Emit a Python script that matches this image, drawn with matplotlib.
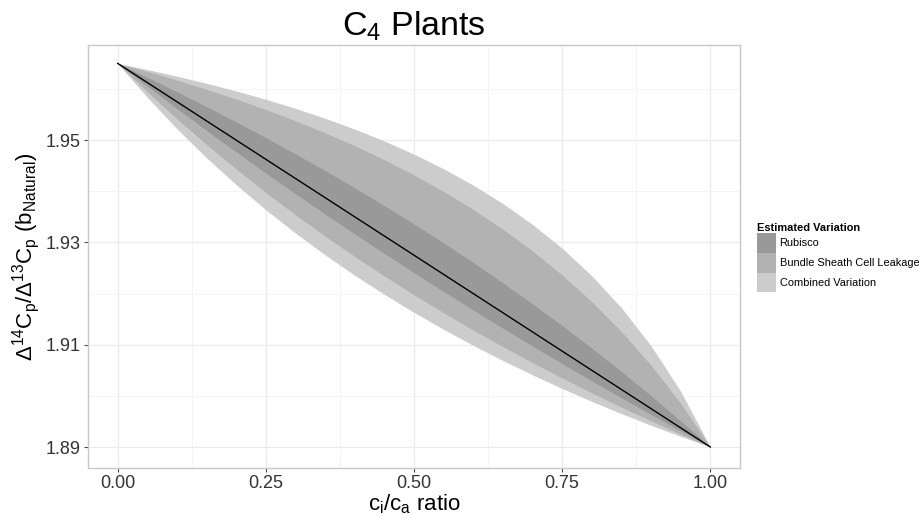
import matplotlib
matplotlib.use("Agg")
import matplotlib.pyplot as plt
from matplotlib.patches import Patch

plt.rcParams['font.family'] = ['Liberation Sans', 'DejaVu Sans']
plt.rcParams['mathtext.fontset'] = 'custom'
plt.rcParams['mathtext.rm'] = 'Liberation Sans'
plt.rcParams['mathtext.it'] = 'Liberation Sans'
plt.rcParams['mathtext.default'] = 'regular'

# ci/ca ratio
x = [0.00, 0.05, 0.10, 0.15, 0.20, 0.25, 0.30, 0.35, 0.40, 0.45, 0.50,
     0.55, 0.60, 0.65, 0.70, 0.75, 0.80, 0.85, 0.90, 0.95, 1.00]

# central estimate
mid = [1.96500, 1.96125, 1.95750, 1.95375, 1.95000, 1.94625, 1.94250, 1.93875,
       1.93500, 1.93125, 1.92750, 1.92375, 1.92000, 1.91625, 1.91250, 1.90875,
       1.90500, 1.90125, 1.89750, 1.89375, 1.89000]

# Combined Variation band
comb_hi = [1.96500, 1.96380, 1.96250, 1.96111, 1.95961, 1.95798, 1.95621, 1.95427,
           1.95216, 1.94983, 1.94725, 1.94439, 1.94120, 1.93760, 1.93352, 1.92886,
           1.92348, 1.91721, 1.90979, 1.90089, 1.89000]
comb_lo = [1.96500, 1.95835, 1.95221, 1.94654, 1.94128, 1.93639, 1.93183, 1.92757,
           1.92358, 1.91984, 1.91632, 1.91300, 1.90987, 1.90691, 1.90411, 1.90145,
           1.89893, 1.89653, 1.89425, 1.89208, 1.89000]

# Bundle Sheath Cell Leakage band
bsc_hi = [1.96500, 1.96342, 1.96173, 1.95994, 1.95803, 1.95598, 1.95379, 1.95144,
          1.94890, 1.94616, 1.94319, 1.93996, 1.93644, 1.93258, 1.92833, 1.92363,
          1.91841, 1.91257, 1.90599, 1.89853, 1.89000]
bsc_lo = [1.96500, 1.95944, 1.95416, 1.94914, 1.94435, 1.93978, 1.93542, 1.93124,
          1.92725, 1.92343, 1.91976, 1.91624, 1.91287, 1.90962, 1.90650, 1.90349,
          1.90059, 1.89780, 1.89511, 1.89251, 1.89000]

# Rubisco band
rub_hi = [1.96500, 1.96226, 1.95944, 1.95655, 1.95356, 1.95048, 1.94731, 1.94405,
          1.94068, 1.93720, 1.93361, 1.92989, 1.92606, 1.92209, 1.91799, 1.91373,
          1.90933, 1.90476, 1.90003, 1.89511, 1.89000]
rub_lo = [1.96500, 1.96055, 1.95618, 1.95189, 1.94769, 1.94357, 1.93953, 1.93556,
          1.93167, 1.92784, 1.92409, 1.92041, 1.91679, 1.91323, 1.90974, 1.90630,
          1.90293, 1.89962, 1.89636, 1.89315, 1.89000]

labels = ['Rubisco', 'Bundle Sheath Cell Leakage', 'Combined Variation']
colors = ['#999999', '#b2b2b2', '#cccccc']

fig = plt.figure(figsize=(9.2, 5.14), dpi=100)
ax = fig.add_axes([0.0957, 0.0895, 0.7086, 0.823])

ax.fill_between(x, comb_lo, comb_hi, color=colors[2], lw=0, zorder=2)
ax.fill_between(x, bsc_lo, bsc_hi, color=colors[1], lw=0, zorder=3)
ax.fill_between(x, rub_lo, rub_hi, color=colors[0], lw=0, zorder=4)
ax.plot(x, mid, color='black', lw=1.0, zorder=5)

ax.set_xlim(-0.05, 1.05)
ax.set_ylim(1.8859, 1.9686)
ax.set_xticks([0, 0.25, 0.5, 0.75, 1.0])
ax.set_xticklabels(['0.00', '0.25', '0.50', '0.75', '1.00'])
ax.set_yticks([1.89, 1.91, 1.93, 1.95])
ax.set_yticklabels(['1.89', '1.91', '1.93', '1.95'])
ax.set_xticks([0.125, 0.375, 0.625, 0.875], minor=True)
ax.set_yticks([1.90, 1.92, 1.94, 1.96], minor=True)
ax.grid(which='major', color='#ebebeb', lw=0.9, zorder=0)
ax.grid(which='minor', color='#f4f4f4', lw=0.6, zorder=0)
ax.set_axisbelow(True)
ax.tick_params(which='major', direction='out', length=3, width=0.8,
               color='#4d4d4d', labelsize=13, labelcolor='#333333', pad=2)
ax.tick_params(which='minor', length=0)
for s in ax.spines.values():
    s.set_color('#c8c8c8')
    s.set_linewidth(1.0)

ax.set_title('C$_4$ Plants', fontsize=24.5, pad=7)
ax.set_xlabel('c$_i$/c$_a$ ratio', fontsize=16, labelpad=0)
ax.set_ylabel(r'$\Delta^{14}C_p/\Delta^{13}C_p\ (b_{Natural})$', fontsize=16, labelpad=3)

handles = [Patch(facecolor=c, edgecolor='none') for c in colors]
leg = fig.legend(handles, labels, loc='upper left', bbox_to_anchor=(0.814, 0.581),
                 frameon=False, fontsize=7.9, title='Estimated Variation',
                 title_fontproperties={'weight': 'bold', 'size': 7.9},
                 handlelength=1.8, handleheight=2.4, labelspacing=0.0,
                 handletextpad=0.3, borderpad=0.2, alignment='left')

fig.savefig('out.png', dpi=100)
